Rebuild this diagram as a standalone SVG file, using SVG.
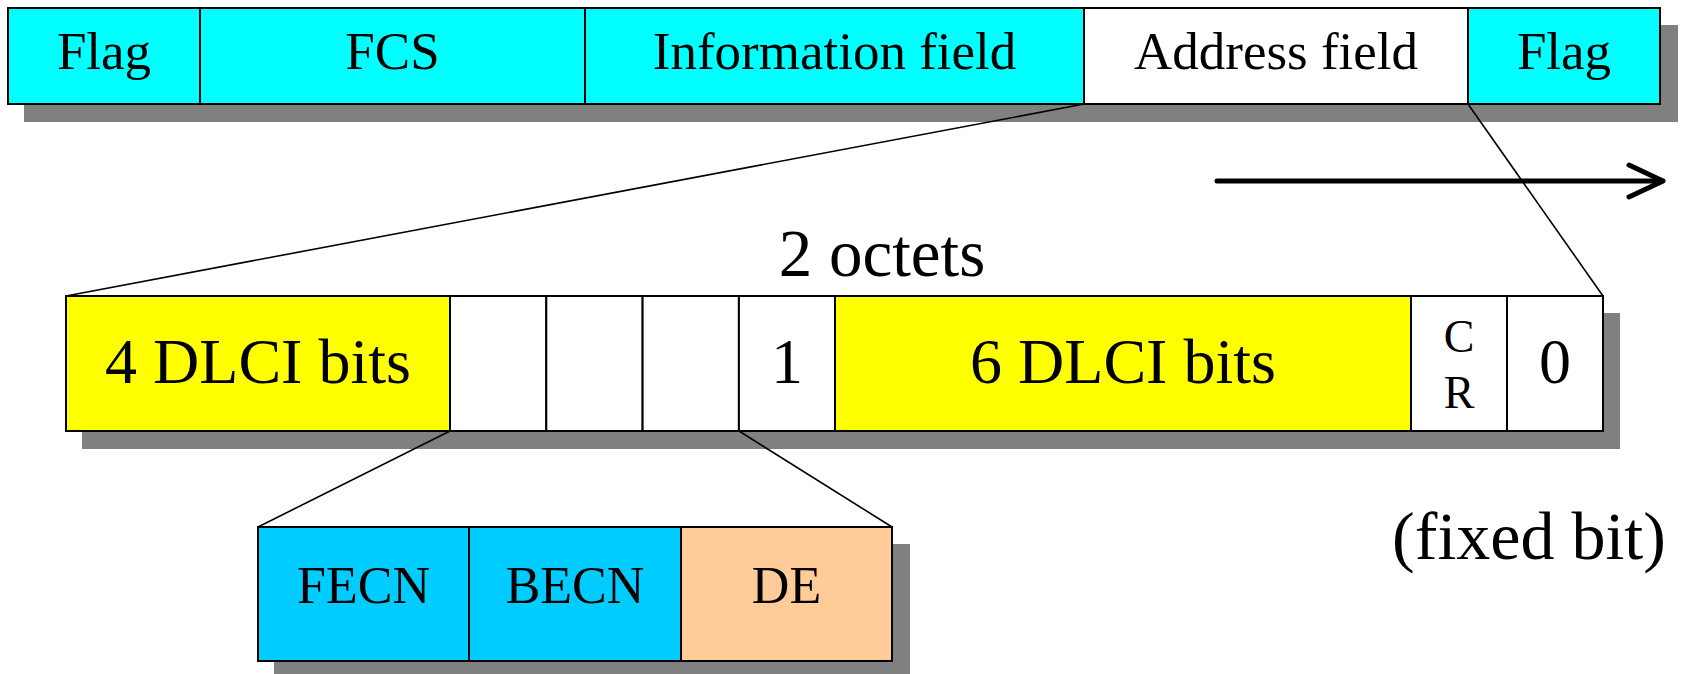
<svg xmlns="http://www.w3.org/2000/svg" width="1686" height="674" viewBox="0 0 1686 674">
<style>
.shadow{fill:#808080;stroke:none}
.cell{stroke:#000;stroke-width:2}
.cyan{fill:#00FFFF}
.white{fill:#FFFFFF}
.yellow{fill:#FFFF00}
.blue{fill:#00CCFF}
.peach{fill:#FFCC99}
text{font-family:"Liberation Serif","Times New Roman",serif;fill:#000;text-anchor:middle}
.t1{font-size:53px}
.t2{font-size:64px}
.t3{font-size:46px}
.t4{font-size:52px}
.t5{font-size:68px}
.t6{font-size:67px}
.conn{stroke:#000;stroke-width:1.6;fill:none}
</style>
<rect width="1686" height="674" fill="#FFFFFF"/>
<g id="shadows">
<rect class="shadow" x="24" y="25" width="1654" height="97"/>
<rect class="shadow" x="82" y="313" width="1538" height="136"/>
<rect class="shadow" x="274" y="544" width="636" height="134"/>
</g>
<g id="connectors">
<line class="conn" x1="1084" y1="104" x2="66" y2="296"/>
<line class="conn" x1="1468" y1="104" x2="1603" y2="296"/>
<line class="conn" x1="450" y1="431" x2="258" y2="527"/>
<line class="conn" x1="739" y1="431" x2="892" y2="527"/>
</g>
<g id="frame-flag-left"><rect class="cell cyan" x="8" y="8" width="192" height="96"/><text class="t1" x="104" y="69">Flag</text></g>
<g id="frame-fcs"><rect class="cell cyan" x="200" y="8" width="385" height="96"/><text class="t1" x="392.5" y="69">FCS</text></g>
<g id="frame-info"><rect class="cell cyan" x="585" y="8" width="499" height="96"/><text class="t1" x="834.5" y="69">Information field</text></g>
<g id="frame-address"><rect class="cell white" x="1084" y="8" width="384" height="96"/><text class="t1" x="1276" y="69">Address field</text></g>
<g id="frame-flag-right"><rect class="cell cyan" x="1468" y="8" width="192" height="96"/><text class="t1" x="1564" y="69">Flag</text></g>
<g id="direction-arrow" fill="none" stroke="#000" stroke-width="5" stroke-linecap="round" stroke-linejoin="round">
<line x1="1217" y1="181" x2="1662" y2="181"/>
<polyline points="1629,165 1663,181 1629,197"/>
</g>
<g id="label-octets"><text class="t6" x="882" y="276">2 octets</text></g>
<g id="addr-dlci4"><rect class="cell yellow" x="66" y="296" width="384" height="135"/><text class="t2" x="258" y="383">4 DLCI bits</text></g>
<g id="addr-fecn-bit"><rect class="cell white" x="450" y="296" width="96.3" height="135"/></g>
<g id="addr-becn-bit"><rect class="cell white" x="546.3" y="296" width="96.3" height="135"/></g>
<g id="addr-de-bit"><rect class="cell white" x="642.6" y="296" width="96.3" height="135"/></g>
<g id="addr-ea1"><rect class="cell white" x="738.9" y="296" width="96.1" height="135"/><text class="t2" x="787" y="383">1</text></g>
<g id="addr-dlci6"><rect class="cell yellow" x="835" y="296" width="576" height="135"/><text class="t2" x="1123" y="383">6 DLCI bits</text></g>
<g id="addr-cr"><rect class="cell white" x="1411" y="296" width="96" height="135"/><text class="t3" x="1459" y="352">C</text><text class="t3" x="1459" y="408">R</text></g>
<g id="addr-ea0"><rect class="cell white" x="1507" y="296" width="96" height="135"/><text class="t2" x="1555" y="383">0</text></g>
<g id="label-fixed-bit"><text class="t5" x="1529" y="559">(fixed bit)</text></g>
<g id="bits-fecn"><rect class="cell blue" x="258" y="527" width="211" height="134"/><text class="t4" x="363.5" y="603">FECN</text></g>
<g id="bits-becn"><rect class="cell blue" x="469" y="527" width="212" height="134"/><text class="t4" x="575" y="603">BECN</text></g>
<g id="bits-de"><rect class="cell peach" x="681" y="527" width="211" height="134"/><text class="t4" x="786.5" y="603">DE</text></g>
</svg>
